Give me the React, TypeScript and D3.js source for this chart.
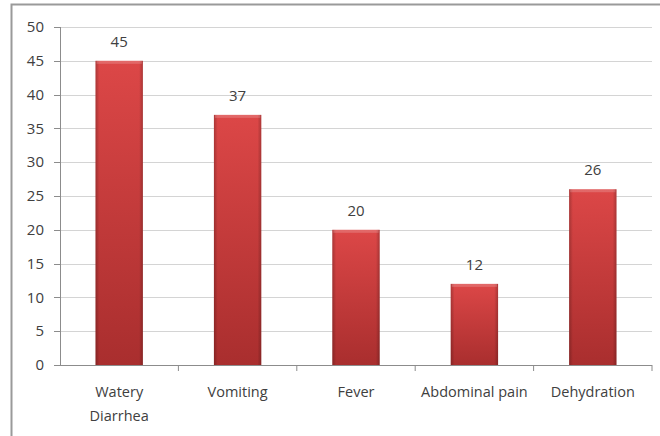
import React from "react";
import * as d3 from "d3";

const categories = ["Watery Diarrhea", "Vomiting", "Fever", "Abdominal pain", "Dehydration"];
const categoryLines = [["Watery", "Diarrhea"], ["Vomiting"], ["Fever"], ["Abdominal pain"], ["Dehydration"]];
const values = [45, 37, 20, 12, 26];
const yTicks = [0, 5, 10, 15, 20, 25, 30, 35, 40, 45, 50];

const W = 660;
const H = 436;
const plotLeft = 60;
const plotRight = 652;
const plotTop = 27;
const plotBottom = 365;
const FONT = "'Open Sans', Lato, sans-serif";
const TEXT = "#404040";

export default function App() {
  const x = d3.scaleBand<string>().domain(categories).range([plotLeft, plotRight]).paddingInner(0.6).paddingOuter(0.3);
  const band = d3.scaleBand<string>().domain(categories).range([plotLeft, plotRight]).padding(0);
  const y = d3.scaleLinear().domain([0, 50]).range([plotBottom, plotTop]);

  return (
    <svg width={W} height={H} style={{ position: "absolute", left: 0, top: 0, display: "block" }}>
      <defs>
        <linearGradient id="barV" x1="0" y1="0" x2="0" y2="1">
          <stop offset="0%" stopColor="#dc4747" />
          <stop offset="100%" stopColor="#a92e2e" />
        </linearGradient>
        <linearGradient id="barH" x1="0" y1="0" x2="1" y2="0">
          <stop offset="0%" stopColor="#000" stopOpacity={0.22} />
          <stop offset="8%" stopColor="#000" stopOpacity={0.0} />
          <stop offset="92%" stopColor="#000" stopOpacity={0.0} />
          <stop offset="100%" stopColor="#000" stopOpacity={0.22} />
        </linearGradient>
      </defs>
      <rect x={0} y={0} width={W} height={H} fill="#fff" />
      <rect x={11.5} y={4.5} width={W + 20} height={H + 20} fill="#fff" stroke="#9a9a9a" strokeWidth={2} />

      {yTicks.map((t) => (
        <g key={t}>
          {t > 0 && (
            <line x1={plotLeft} x2={plotRight} y1={Math.round(y(t)) + 0.5} y2={Math.round(y(t)) + 0.5} stroke="#d4d4d4" strokeWidth={1.2} />
          )}
          <line x1={plotLeft - 6} x2={plotLeft} y1={Math.round(y(t)) + 0.5} y2={Math.round(y(t)) + 0.5} stroke="#8c8c8c" />
          <text x={44} y={y(t)} dy="0.35em" textAnchor="end" fontFamily={FONT} fontSize={15} fill={TEXT}>
            {t}
          </text>
        </g>
      ))}

      {categories.map((c, i) => {
        const bx = x(c)!;
        const bw = x.bandwidth();
        const top = y(values[i]);
        const h = plotBottom - top;
        return (
          <g key={c}>
            <rect x={bx} y={top} width={bw} height={h} fill="url(#barV)" />
            <rect x={bx} y={top} width={bw} height={h} fill="url(#barH)" />
            <rect x={bx + 1} y={top} width={bw - 2} height={3} fill="#ffffff" opacity={0.18} />
            <text x={bx + bw / 2} y={top - 14} textAnchor="middle" fontFamily={FONT} fontSize={15} fill={TEXT}>
              {values[i]}
            </text>
          </g>
        );
      })}

      <line x1={plotLeft + 0.5} x2={plotLeft + 0.5} y1={plotTop} y2={plotBottom} stroke="#8c8c8c" />
      <line x1={plotLeft} x2={plotRight} y1={plotBottom + 0.5} y2={plotBottom + 0.5} stroke="#8c8c8c" />
      {categories.map((c) => (
        <line key={c} x1={band(c)! + band.bandwidth()} x2={band(c)! + band.bandwidth()} y1={plotBottom} y2={plotBottom + 6} stroke="#8c8c8c" />
      ))}

      {categories.map((c, i) => (
        <text key={c} x={band(c)! + band.bandwidth() / 2} y={397} textAnchor="middle" fontFamily={FONT} fontSize={14.5} fill={TEXT}>
          {categoryLines[i].map((ln, j) => (
            <tspan key={j} x={band(c)! + band.bandwidth() / 2} dy={j === 0 ? 0 : 24}>
              {ln}
            </tspan>
          ))}
        </text>
      ))}
    </svg>
  );
}
